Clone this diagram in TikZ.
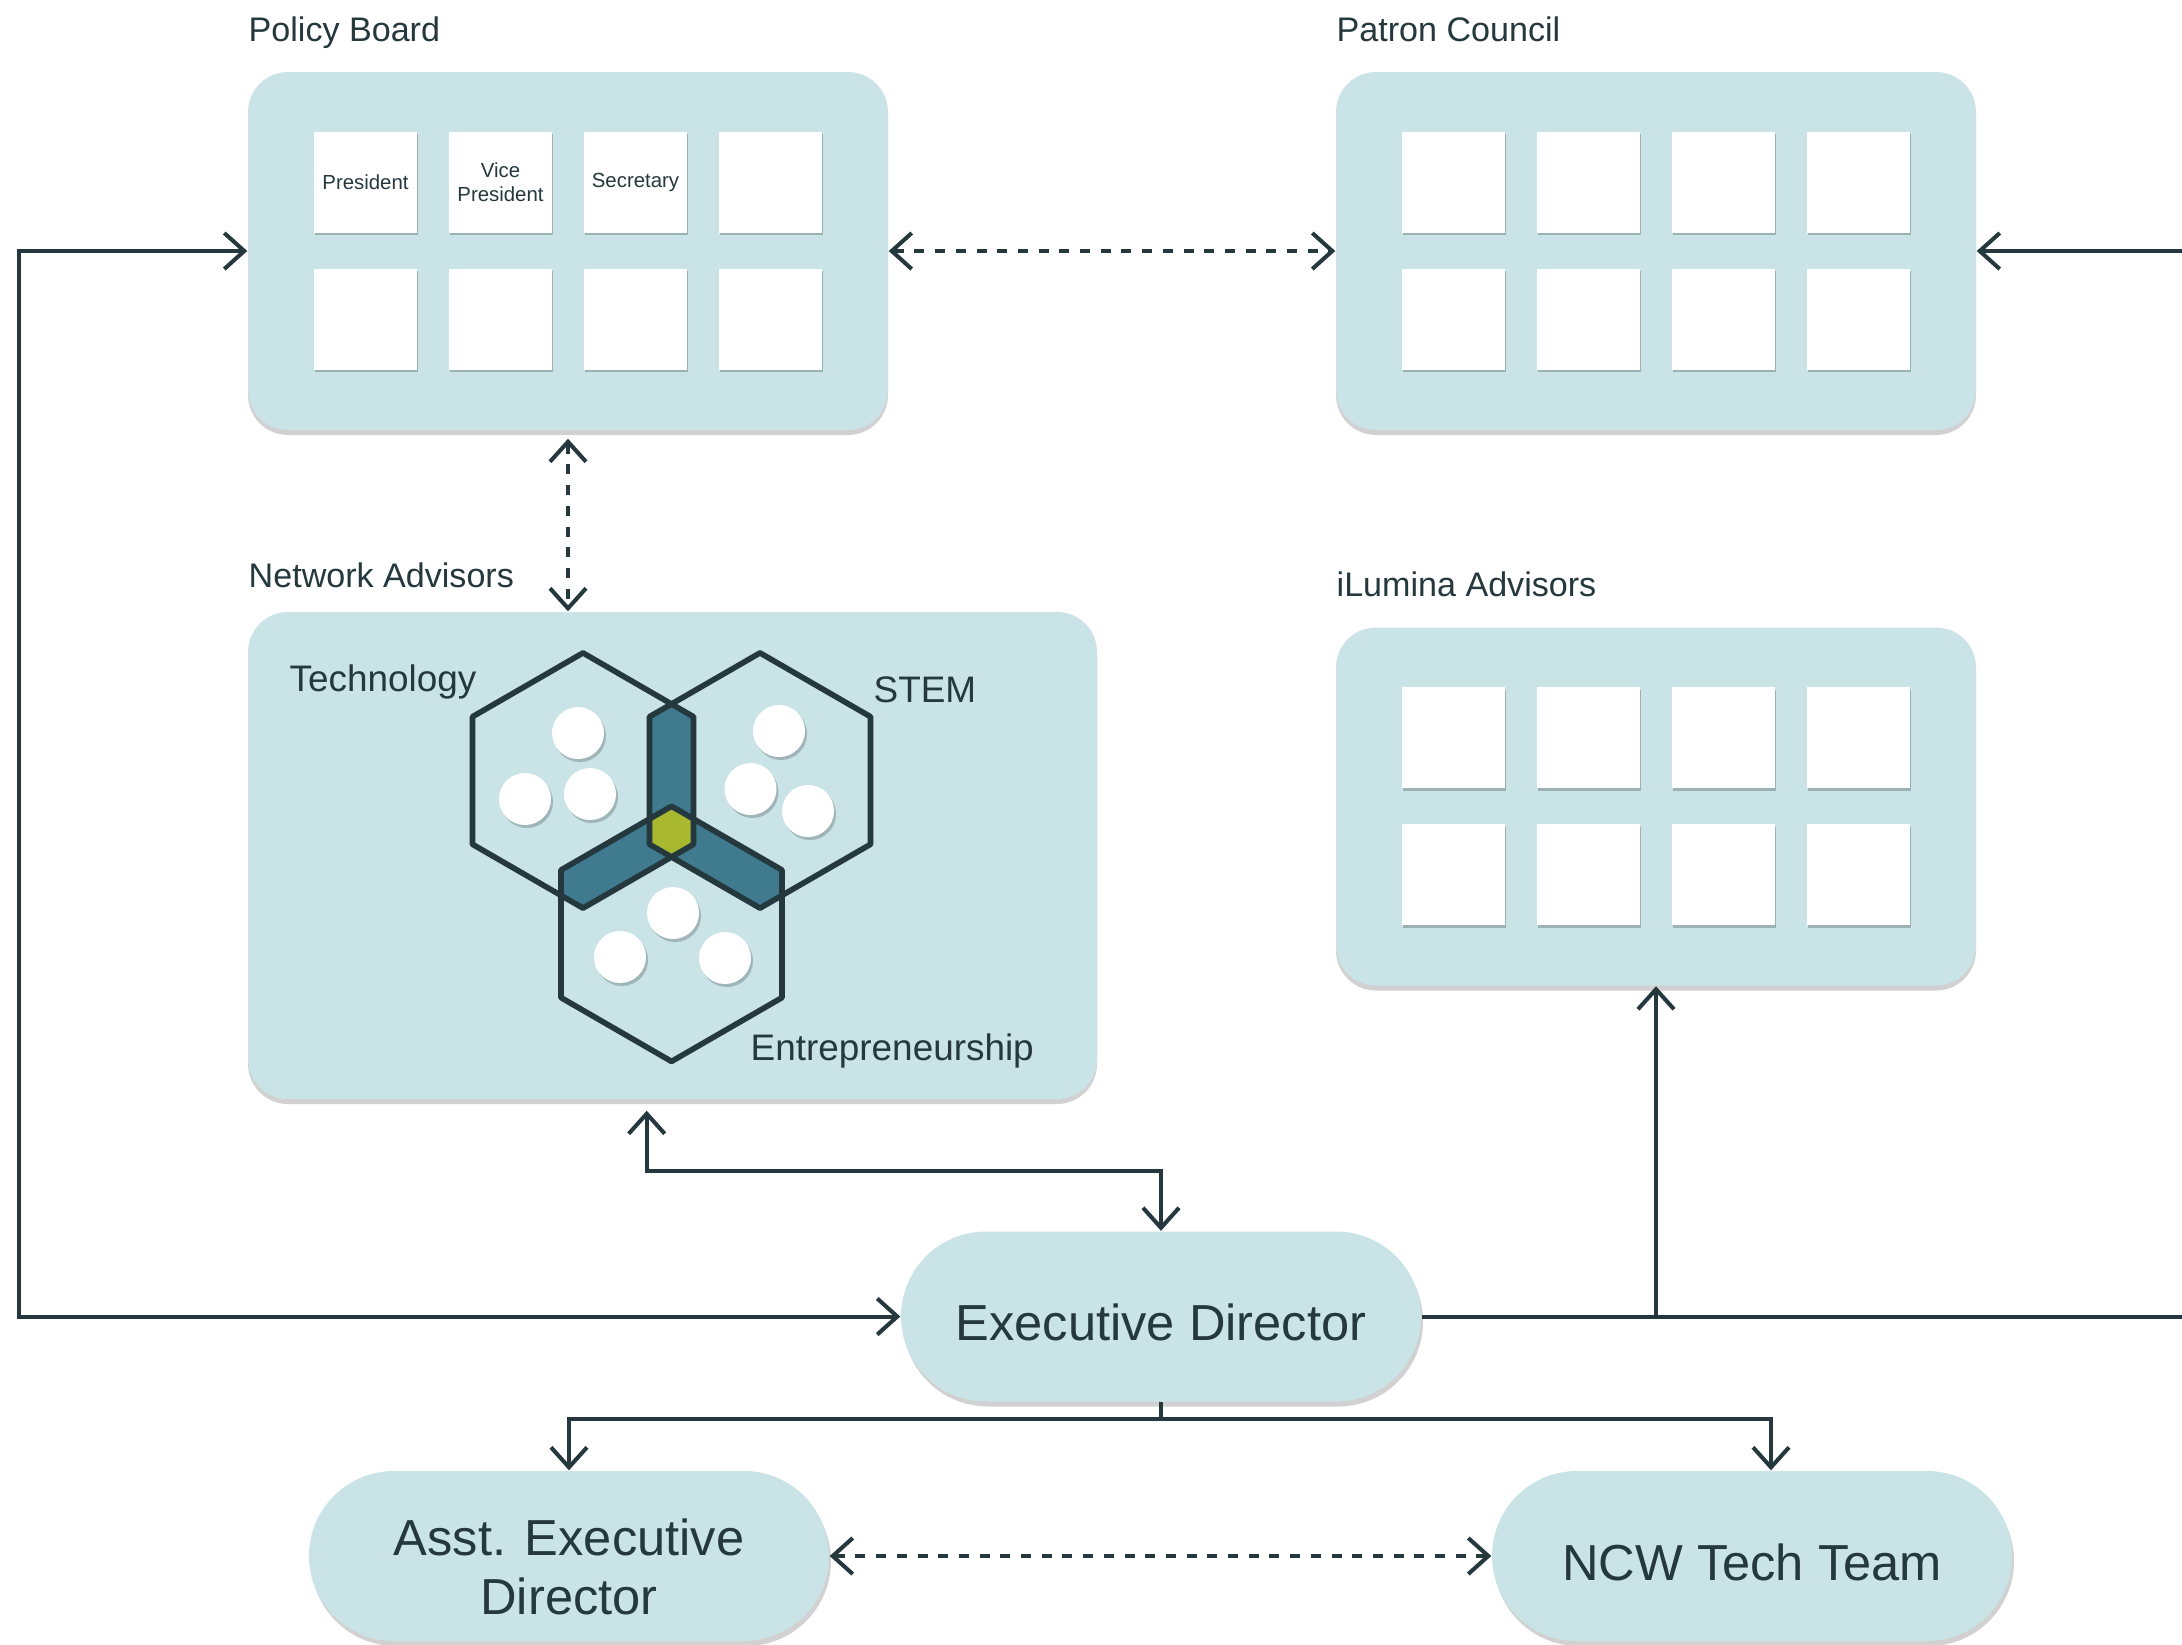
\documentclass[tikz,border=0pt]{standalone}
\usepackage{fontspec}
\setmainfont{Liberation Sans}
\usetikzlibrary{arrows.meta,shadows,positioning}

\definecolor{ink}{RGB}{36,56,61}
\definecolor{panelfill}{RGB}{201,227,231}
\definecolor{hexblue}{RGB}{63,122,142}
\definecolor{hexgreen}{RGB}{168,185,47}

\newcommand\hexr{1.276}
\newcommand\hexat[1]{(#1) +(90:\hexr) -- +(150:\hexr) -- +(210:\hexr) -- +(270:\hexr) -- +(330:\hexr) -- +(30:\hexr) -- cycle}

\tikzset{
  panel/.style={fill=panelfill, rounded corners=0.4cm, minimum width=6.4cm, minimum height=3.58cm,
    drop shadow={shadow xshift=0pt, shadow yshift=-0.05cm, opacity=0.18, fill=black}},
  card/.style={fill=white, minimum width=1.03cm, minimum height=1.01cm, inner sep=0pt, align=center,
    text=ink, font=\fontsize{5.8}{6.7}\selectfont,
    drop shadow={shadow xshift=0.01cm, shadow yshift=-0.025cm, opacity=0.22, fill=black}},
  pill/.style={fill=panelfill, rounded corners=0.85cm, minimum width=5.2cm, minimum height=1.7cm,
    inner sep=0pt, align=center, text=ink, font=\fontsize{14.4}{16.8}\selectfont, text height=0.49cm,
    drop shadow={shadow xshift=0.02cm, shadow yshift=-0.05cm, opacity=0.18, fill=black}},
  title/.style={anchor=base west, inner sep=0pt, text=ink, font=\fontsize{9.7}{11.6}\selectfont},
  hextitle/.style={anchor=base west, inner sep=0pt, text=ink, font=\fontsize{10.5}{12.6}\selectfont},
  dot/.style={fill=white, drop shadow={shadow xshift=0.02cm, shadow yshift=-0.03cm, opacity=0.2, fill=black}},
  conn/.style={draw=ink, line width=1.15pt},
  dashconn/.style={conn, dash pattern=on 0.1cm off 0.107cm},
  >={Straight Barb[length=0.2cm,width=0.36cm]}
}

\begin{document}
\begin{tikzpicture}
\path [use as bounding box, fill=white] (0,0) rectangle (21.82,-16.44);

% panels
\node (pb) [panel] at (5.68,-2.51) {};
\node (pc) [panel] at (16.56,-2.51) {};
\node (na) [panel, minimum width=8.49cm, minimum height=4.87cm] at (6.725,-8.555) {};
\node (ia) [panel] at (16.56,-8.065) {};

\node (pbtitle) [title] at (2.48,-0.41) {Policy Board};
\node (pctitle) [title] at (13.36,-0.41) {Patron Council};
\node (natitle) [title] at (2.48,-5.87) {Network Advisors};
\node (iatitle) [title] at (13.36,-5.96) {iLumina Advisors};

% policy board seats
\node (pb1) [card] at (3.655,-1.82) {President};
\node (pb2) [card] at (5.005,-1.82) {Vice\\President};
\node (pb3) [card] at (6.355,-1.82) {Secretary};
\node (pb4) [card] at (7.705,-1.82) {};
\node (pb5) [card] at (3.655,-3.19) {};
\node (pb6) [card] at (5.005,-3.19) {};
\node (pb7) [card] at (6.355,-3.19) {};
\node (pb8) [card] at (7.705,-3.19) {};

% patron council seats
\node (pc1) [card] at (14.535,-1.82) {};
\node (pc2) [card] at (15.885,-1.82) {};
\node (pc3) [card] at (17.235,-1.82) {};
\node (pc4) [card] at (18.585,-1.82) {};
\node (pc5) [card] at (14.535,-3.19) {};
\node (pc6) [card] at (15.885,-3.19) {};
\node (pc7) [card] at (17.235,-3.19) {};
\node (pc8) [card] at (18.585,-3.19) {};

% ilumina seats
\node (ia1) [card] at (14.535,-7.375) {};
\node (ia2) [card] at (15.885,-7.375) {};
\node (ia3) [card] at (17.235,-7.375) {};
\node (ia4) [card] at (18.585,-7.375) {};
\node (ia5) [card] at (14.535,-8.745) {};
\node (ia6) [card] at (15.885,-8.745) {};
\node (ia7) [card] at (17.235,-8.745) {};
\node (ia8) [card] at (18.585,-8.745) {};

% advisor hexagons
\coordinate (hexT) at (5.83,-7.805);
\coordinate (hexS) at (7.60,-7.805);
\coordinate (hexE) at (6.715,-9.338);

\begin{scope}
\clip \hexat{hexT};
\fill [hexblue] \hexat{hexS};
\fill [hexblue] \hexat{hexE};
\end{scope}
\begin{scope}
\clip \hexat{hexS};
\fill [hexblue] \hexat{hexE};
\end{scope}
\begin{scope}
\clip \hexat{hexT};
\clip \hexat{hexS};
\fill [hexgreen] \hexat{hexE};
\end{scope}
\draw [ink, line width=1.6pt, line join=round] \hexat{hexT} \hexat{hexS} \hexat{hexE};

\fill [dot] (5.78,-7.33) circle (0.26);
\fill [dot] (5.25,-7.99) circle (0.26);
\fill [dot] (5.90,-7.94) circle (0.26);
\fill [dot] (7.79,-7.31) circle (0.26);
\fill [dot] (7.505,-7.89) circle (0.26);
\fill [dot] (8.08,-8.11) circle (0.26);
\fill [dot] (6.73,-9.13) circle (0.26);
\fill [dot] (6.20,-9.57) circle (0.26);
\fill [dot] (7.25,-9.58) circle (0.26);

\node (tech) [hextitle] at (2.89,-6.91) {Technology};
\node (stem) [hextitle] at (8.73,-7.02) {STEM};
\node (entre) [hextitle] at (7.50,-10.60) {Entrepreneurship};

% staff
\node (ed) [pill] at (11.61,-13.165) {Executive Director};
\node (asst) [pill, text height=1.18cm] at (5.69,-15.56) {Asst. Executive\\Director};
\node (ncw) [pill] at (17.52,-15.56) {NCW Tech Team};

% links
\draw [dashconn, <->] (pb) -- (pc);
\draw [dashconn, <->, shorten <=0.08cm] (pb.south) -- (pb.south |- na.north);
\draw [dashconn, <->] (asst) -- (ncw);

\draw [conn, <->] (pb.west) -- ++(-2.285,0) |- (ed.west);
\draw [conn, <->, shorten <=0.11cm] ([xshift=-0.258cm]na.south) -- ++(0,-0.71) -| (ed.north);
\draw [conn, ->] (ed.south) -- ++(0,-0.17) -| (asst.north);
\draw [conn, ->] (ed.south) -- ++(0,-0.17) -| ([xshift=0.19cm]ncw.north);
\draw [conn, ->] (ed.east) -| (ia.south);
\coordinate (rim) at (22.4,-13.165);
\draw [conn, ->] (ed.east) -- (rim) |- (pc.east);
\end{tikzpicture}
\end{document}
